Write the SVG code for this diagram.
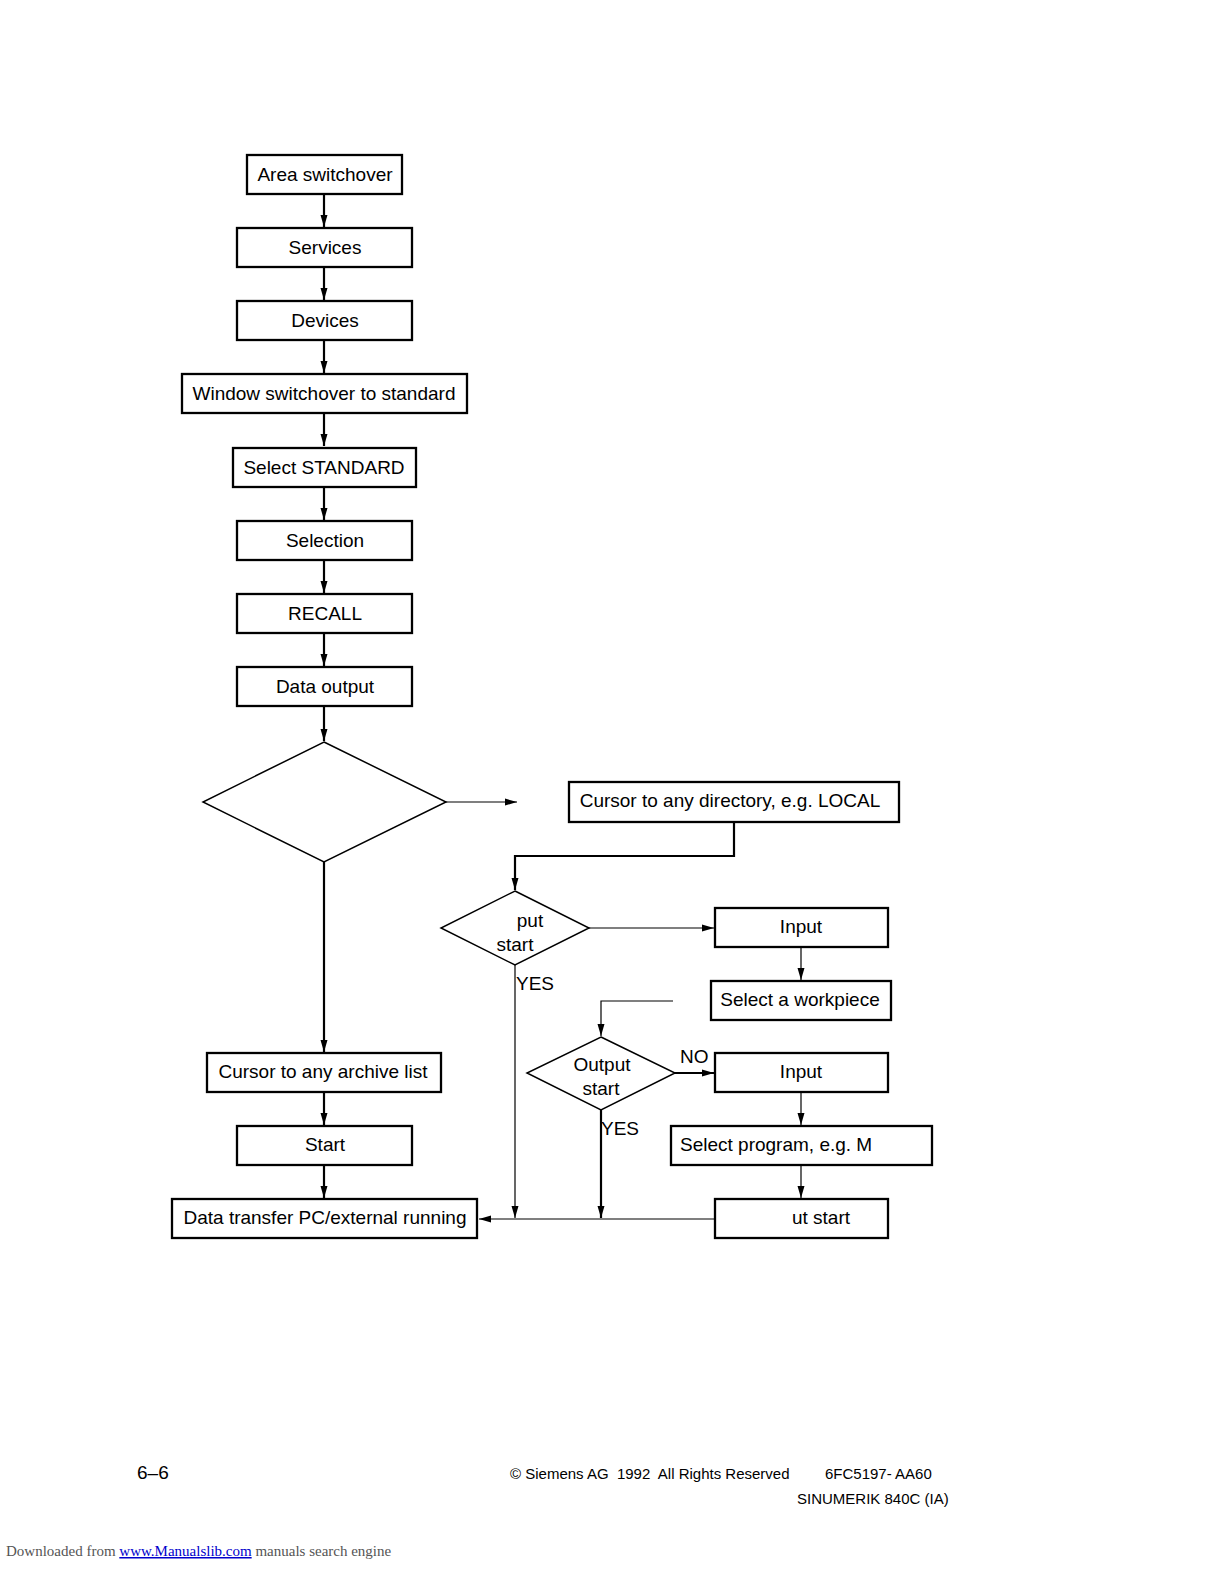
<svg xmlns="http://www.w3.org/2000/svg" width="1224" height="1584" viewBox="0 0 1224 1584">
<defs>
<marker id="ah" markerWidth="12" markerHeight="8" refX="12" refY="4" orient="auto" markerUnits="userSpaceOnUse">
<path d="M0,0.5 L12,4 L0,7.5 Z" fill="#000"/>
</marker>
</defs>
<style>
.box{fill:#fff;stroke:#000;stroke-width:2.3}
.dia{fill:#fff;stroke:#000;stroke-width:1.5}
.t{font-family:"Liberation Sans",Arial,sans-serif;font-size:19px;fill:#000;text-anchor:middle}
.lbl{font-family:"Liberation Sans",Arial,sans-serif;font-size:19px;fill:#000}
.c{fill:none;stroke:#000;stroke-width:2.2}
.cn{fill:none;stroke:#000;stroke-width:1.2}
.f{font-family:"Liberation Sans",Arial,sans-serif;fill:#000}
</style>
<rect width="1224" height="1584" fill="#fff"/>
<g id="connectors">
<path class="c" d="M324,194 V227" marker-end="url(#ah)"/>
<path class="c" d="M324,267 V300" marker-end="url(#ah)"/>
<path class="c" d="M324,340 V373" marker-end="url(#ah)"/>
<path class="c" d="M324,413 V446" marker-end="url(#ah)"/>
<path class="c" d="M324,487 V520" marker-end="url(#ah)"/>
<path class="c" d="M324,560 V593" marker-end="url(#ah)"/>
<path class="c" d="M324,633 V666" marker-end="url(#ah)"/>
<path class="c" d="M324,706 V741" marker-end="url(#ah)"/>
<path class="cn" d="M446,802 H517" marker-end="url(#ah)"/>
<path class="c" d="M734,822 V856 H515 V890" marker-end="url(#ah)"/>
<path class="cn" d="M589,928 H714" marker-end="url(#ah)"/>
<path class="cn" d="M801,947 V980" marker-end="url(#ah)"/>
<path class="cn" d="M673,1001 H601 V1036" marker-end="url(#ah)"/>
<path class="c" d="M675,1073 H714" marker-end="url(#ah)"/>
<path class="cn" d="M801,1092 V1125" marker-end="url(#ah)"/>
<path class="cn" d="M801,1165 V1198" marker-end="url(#ah)"/>
<path class="cn" d="M715,1219 H479" marker-end="url(#ah)"/>
<path class="cn" d="M515,965 V1218" marker-end="url(#ah)"/>
<path class="c" d="M601,1110 V1218" marker-end="url(#ah)"/>
<path class="c" d="M324,862 V1052" marker-end="url(#ah)"/>
<path class="c" d="M324,1092 V1125" marker-end="url(#ah)"/>
<path class="c" d="M324,1165 V1198" marker-end="url(#ah)"/>
<text class="lbl" x="516" y="990">YES</text>
<text class="lbl" x="601" y="1135">YES</text>
<text class="lbl" x="680" y="1063">NO</text>
</g>
<g id="n-area"><rect class="box" x="247" y="155" width="155" height="39"/><text class="t" x="325" y="181">Area switchover</text></g>
<g id="n-services"><rect class="box" x="237" y="228" width="175" height="39"/><text class="t" x="325" y="254">Services</text></g>
<g id="n-devices"><rect class="box" x="237" y="301" width="175" height="39"/><text class="t" x="325" y="327">Devices</text></g>
<g id="n-window"><rect class="box" x="182" y="374" width="285" height="39"/><text class="t" x="324" y="400">Window switchover to standard</text></g>
<g id="n-select-std"><rect class="box" x="233" y="448" width="183" height="39"/><text class="t" x="324" y="474">Select STANDARD</text></g>
<g id="n-selection"><rect class="box" x="237" y="521" width="175" height="39"/><text class="t" x="325" y="547">Selection</text></g>
<g id="n-recall"><rect class="box" x="237" y="594" width="175" height="39"/><text class="t" x="325" y="620">RECALL</text></g>
<g id="n-dataout"><rect class="box" x="237" y="667" width="175" height="39"/><text class="t" x="325" y="693">Data output</text></g>
<g id="n-bigdiamond"><polygon class="dia" points="324,742 446,802 324,862 203,802"/></g>
<g id="n-cursor-dir"><rect class="box" x="569" y="782" width="330" height="40"/><text class="t" x="730" y="807">Cursor to any directory, e.g. LOCAL</text></g>
<g id="n-input-start"><polygon class="dia" points="515,891 589,928 515,965 441,928"/><text class="t" x="530" y="927">put</text><text class="t" x="515" y="951">start</text></g>
<g id="n-input1"><rect class="box" x="715" y="908" width="173" height="39"/><text class="t" x="801" y="933">Input</text></g>
<g id="n-workpiece"><rect class="box" x="711" y="981" width="180" height="39"/><text class="t" x="800" y="1006">Select a workpiece</text></g>
<g id="n-output-start"><polygon class="dia" points="601,1037 675,1073 601,1110 527,1073"/><text class="t" x="602" y="1071">Output</text><text class="t" x="601" y="1095">start</text></g>
<g id="n-input2"><rect class="box" x="715" y="1053" width="173" height="39"/><text class="t" x="801" y="1078">Input</text></g>
<g id="n-select-prog"><rect class="box" x="671" y="1126" width="261" height="39"/><text class="lbl" x="680" y="1151">Select program, e.g. M</text></g>
<g id="n-ut-start"><rect class="box" x="715" y="1199" width="173" height="39"/><text class="t" x="821" y="1224">ut start</text></g>
<g id="n-cursor-archive"><rect class="box" x="207" y="1053" width="234" height="39"/><text class="t" x="323" y="1078">Cursor to any archive list</text></g>
<g id="n-start"><rect class="box" x="237" y="1126" width="175" height="39"/><text class="t" x="325" y="1151">Start</text></g>
<g id="n-transfer"><rect class="box" x="172" y="1199" width="305" height="39"/><text class="t" x="325" y="1224">Data transfer PC/external running</text></g>
<g id="footer">
<text class="f" x="137" y="1479" font-size="19">6–6</text>
<text class="f" x="510" y="1479" font-size="15" xml:space="preserve">© Siemens AG  1992  All Rights Reserved</text>
<text class="f" x="825" y="1479" font-size="15">6FC5197- AA60</text>
<text class="f" x="797" y="1504" font-size="15">SINUMERIK 840C (IA)</text>
<text x="6" y="1556" font-family="Liberation Serif,serif" font-size="15" fill="#555">Downloaded from <tspan fill="#0000cc" text-decoration="underline">www.Manualslib.com</tspan> manuals search engine</text>
</g>
</svg>
